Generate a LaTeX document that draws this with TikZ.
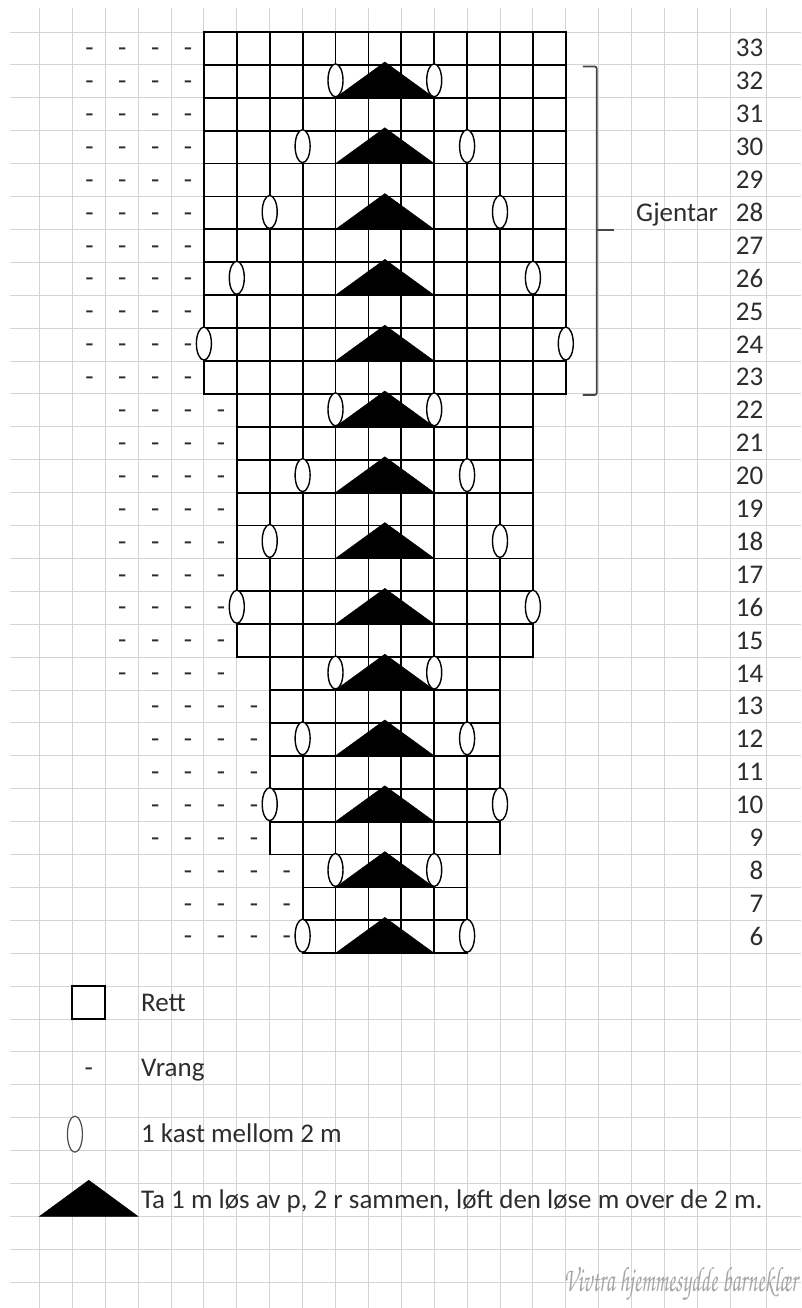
\documentclass[tikz,border=0pt]{standalone}
\usepackage{fontspec}
\usepackage{graphicx}
\setmainfont{Carlito}
\newfontfamily\chorus{texgyrechorus-mediumitalic.otf}
\definecolor{bggrid}{RGB}{212,212,212}
\definecolor{txt}{RGB}{45,45,45}
\definecolor{brk}{RGB}{70,70,70}
\begin{document}
\begin{tikzpicture}[x=32.9pt,y=-32.9pt,
  bgline/.style={draw=bggrid, line width=0.9pt},
  cell/.style={draw=black, line width=1.8pt},
  yo/.style={draw=black, fill=white, line width=1.4pt},
  dec/.style={fill=black, draw=black, line width=0.4pt},
  lbl/.style={font=\fontsize{27}{31}\selectfont, text=txt, inner sep=0pt},
  purl/.style={lbl, anchor=base},
  rownum/.style={lbl, anchor=base east},
  legtxt/.style={lbl, anchor=base west},
  bracket/.style={draw=brk, line width=1.8pt}]

\useasboundingbox (-0.19757,-0.97264) rectangle (24.1489,38.7842);
\fill[white] (-0.19757,-0.97264) rectangle (24.1489,38.7842);

% background grid
\foreach \k in {0,...,38} \draw[bgline] (0.106,\k) -- (24.1489,\k);
\foreach \i in {1,...,22} \draw[bgline] (\i,-0.7295) -- (\i,38.7842);
\draw[bgline] (23.1,-0.7295) -- (23.1,38.7842);

% chart cells and purl dashes
\foreach \ka/\kb/\a/\b/\pa in {0/10/6/16/2, 11/18/7/15/3, 19/19/8/14/3, 20/24/8/14/4, 25/27/9/13/5} {
  \foreach \k in {\ka,...,\kb} {
    \foreach \i in {\a,...,\b} \draw[cell] (\i,\k) rectangle ++(1,1);
    \foreach \j in {0,...,3} \node[purl] (p-\k-\j) at ({\pa+\j+0.52},{\k+0.75}) {-};
  }
}

% decreases
\foreach \k in {1,3,...,27} \fill[dec] (10,\k+1) -- (11.5,\k-0.09) -- (13,\k+1) -- cycle;

% yarn overs
\foreach \k/\l/\r in {1/10/13, 3/9/14, 5/8/15, 7/7/16, 9/6/17, 11/10/13, 13/9/14, 15/8/15, 17/7/16, 19/10/13, 21/9/14, 23/8/15, 25/10/13, 27/9/14} {
  \draw[yo] (\l,\k+0.47) ellipse [x radius=7.5pt, y radius=16.5pt];
  \draw[yo] (\r,\k+0.47) ellipse [x radius=7.5pt, y radius=16.5pt];
}

% row numbers
\foreach \n in {6,...,33} \node[rownum] (r\n) at (23.01,{33-\n+0.758}) {\n};

% repeat bracket
\coordinate (btop) at (17.52,1.05);
\coordinate (bbot) at (17.52,11.03);
\coordinate (bmid) at (17.94,6.02);
\coordinate (btip) at (18.46,6.02);
\draw[bracket, rounded corners=2pt] (btop) -- (17.94,1.05) -- (17.94,11.03) -- (bbot);
\draw[bracket] (bmid) -- (btip);
\node[legtxt] (gjentar) at (19.134,5.758) {Gjentar};

% legend
\draw[cell] (2,29) rectangle (3,30);
\node[legtxt] (rett) at (4.088,29.758) {Rett};
\node[purl] (vdash) at (2.5,31.758) {-};
\node[legtxt] (vrang) at (4.088,31.758) {Vrang};
\draw[yo, draw=black!70, line width=1.2pt] (2.08,33.5) ellipse [x radius=7.5pt, y radius=18pt];
\node[legtxt] (kast) at (4.088,33.758) {1 kast mellom 2 m};
\fill[dec] (1,36) -- (2.5,34.9) -- (4,36) -- cycle;
\node[legtxt] (ta) at (4.088,35.758) {Ta 1 m løs av p, 2 r sammen, løft den løse m over de 2 m.};

% watermark
\node[anchor=base west, inner sep=0pt, text=gray!70] (wm) at (16.93,38.28) {\resizebox*{234pt}{33pt}{\chorus Vivtra hjemmesydde barneklær}};
\end{tikzpicture}
\end{document}
